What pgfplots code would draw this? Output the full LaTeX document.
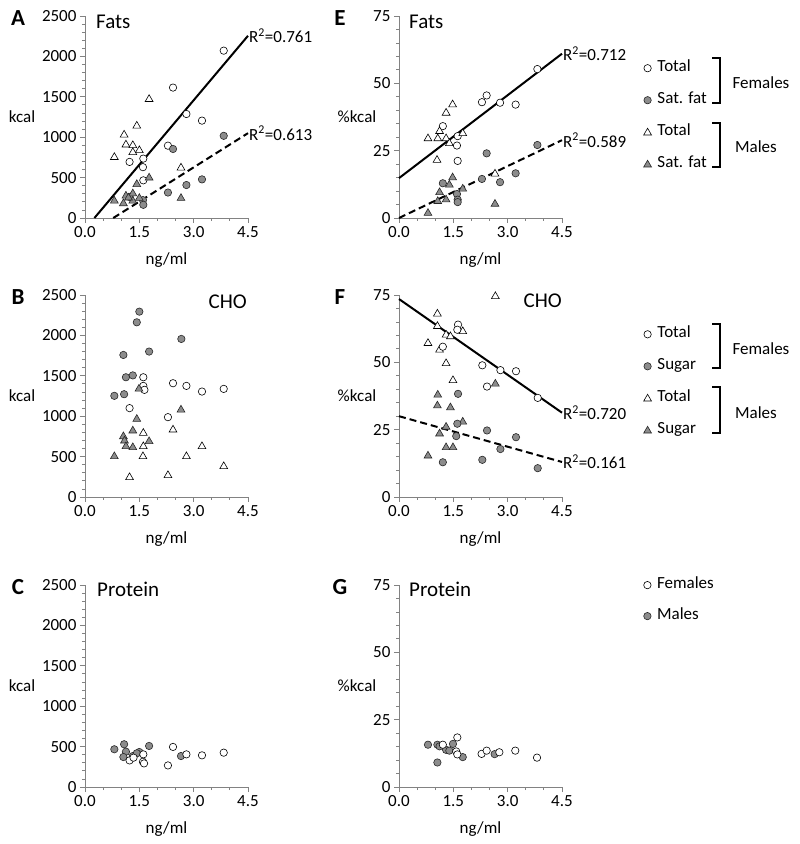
\documentclass[border=0pt]{standalone}
\usepackage{fontspec}
\setmainfont{Carlito}
\usepackage{pgfplots}
\pgfplotsset{compat=1.18}
\definecolor{mgray}{RGB}{140,140,140}
\definecolor{axgray}{RGB}{130,130,130}
\newcommand\tfont{\fontsize{17}{20}\selectfont}
\newcommand\hfont{\fontsize{21}{24}\selectfont}
\newcommand\lfont{\fontsize{23}{26}\selectfont\bfseries}
\pgfplotsset{
 panel/.style={scale only axis, width=163pt, height=202pt, xmin=0, xmax=4.5,
   xtick={0,1.5,3,4.5}, minor x tick num=2,
   axis x line*=bottom, axis y line*=left,
   axis line style={axgray, line width=0.8pt, -},
   tick style={axgray, line width=0.8pt},
   tick align=outside, major tick length=5pt, minor tick length=3pt,
   clip=false, tick label style={font=\tfont},
   /pgf/number format/assume math mode=true,
   x tick label style={/pgf/number format/.cd, fixed, fixed zerofill, precision=1, /tikz/.cd},
   y tick label style={/pgf/number format/.cd, set thousands separator={}, /tikz/.cd},
   every axis x label/.style={at={(axis description cs:0.5,0)}, anchor=center, yshift=-42pt, font=\tfont},
   xlabel={ng/ml},
   legend style={draw=none, fill=none, font=\tfont, row sep=16pt, column sep=6pt, inner sep=0pt,
     nodes={inner sep=0pt, text height=12pt, text depth=4pt}, anchor=north west},
   legend cell align=left},
 kpanel/.style={panel, ymin=0, ymax=2500, ytick={0,500,1000,1500,2000,2500}, minor y tick num=4,
   every axis y label/.style={at={(axis description cs:0,0.5)}, anchor=center, xshift=-63pt, font=\tfont},
   ylabel={kcal}},
 ppanel/.style={panel, ymin=0, ymax=75, ytick={0,25,50,75}, minor y tick num=4,
   every axis y label/.style={at={(axis description cs:0,0.5)}, anchor=center, xshift=-42pt, font=\tfont},
   ylabel={\%kcal}},
 fo/.style={only marks, mark=*, mark size=3.7pt, mark options={fill=white, draw=black, line width=0.6pt},
   legend image code/.code={\draw[##1] plot coordinates {(0pt,-1pt)};}},
 ff/.style={only marks, mark=*, mark size=3.7pt, mark options={fill=mgray, draw=black!85, line width=0.6pt},
   legend image code/.code={\draw[##1] plot coordinates {(0pt,-1pt)};}},
 to/.style={only marks, mark=triangle*, mark size=4.5pt, mark options={fill=white, draw=black, line width=0.6pt},
   legend image code/.code={\draw[##1] plot coordinates {(0pt,-1.5pt)};}},
 tf/.style={only marks, mark=triangle*, mark size=4.5pt, mark options={fill=mgray, draw=black!85, line width=0.6pt},
   legend image code/.code={\draw[##1] plot coordinates {(0pt,-1.5pt)};}},
 regs/.style={black, line width=2pt, no marks, forget plot},
 regd/.style={black, line width=2pt, no marks, dash pattern=on 7pt off 4pt, forget plot},
}
\begin{document}
\begin{tikzpicture}[x=1pt,y=1pt]
\path[use as bounding box] (0,0) rectangle (800,844);

% ---------- A ----------
\begin{axis}[kpanel, at={(85pt,626pt)}, anchor=south west]
\addplot[fo, forget plot] coordinates {(3.83,2071)(2.43,1614)(2.80,1287)(3.23,1205)(2.29,895)(1.23,694)(1.61,735)(1.60,629)(1.61,466)};
\addplot[ff, forget plot] coordinates {(3.83,1017)(2.43,854)(3.23,478)(2.80,408)(2.29,315)(1.60,221)(1.61,163)(1.23,260)};
\addplot[to, forget plot] coordinates {(1.77,1470)(1.43,1140)(1.08,1029)(1.13,907)(1.32,899)(1.32,813)(1.50,837)(0.81,752)(2.65,621)};
\addplot[tf, forget plot] coordinates {(0.81,212)(1.06,180)(1.13,274)(1.32,302)(1.32,212)(1.50,245)(1.43,417)(1.77,498)(2.65,245)(1.20,250)};
\addplot[regs] coordinates {(0.26,0)(4.5,2255)};
\addplot[regd] coordinates {(0.78,0)(4.5,1050)};
\node[anchor=west, font=\tfont, inner sep=1pt] at (axis cs:4.5,2255) {R\textsuperscript{2}=0.761};
\node[anchor=west, font=\tfont, inner sep=1pt] at (axis cs:4.5,1050) {R\textsuperscript{2}=0.613};
\node[anchor=west, font=\hfont, inner sep=0pt, xshift=11pt, yshift=-6pt] at (rel axis cs:0,1) {Fats};
\end{axis}

% ---------- E ----------
\begin{axis}[ppanel, at={(399pt,626pt)}, anchor=south west,
  legend style={at={(axis description cs:1.5,0.787)}}]
\addlegendimage{fo}\addlegendentry{Total}
\addlegendimage{ff}\addlegendentry{Sat. fat}
\addlegendimage{to}\addlegendentry{Total}
\addlegendimage{tf}\addlegendentry{Sat. fat}
\addplot[fo, forget plot] coordinates {(3.82,55.3)(2.42,45.5)(2.29,43.0)(2.79,42.8)(3.22,42.1)(1.21,34.1)(1.62,30.4)(1.60,26.9)(1.62,21.2)};
\addplot[ff, forget plot] coordinates {(3.82,27.1)(2.42,24.0)(3.22,16.6)(2.29,14.5)(2.79,13.3)(1.21,12.9)(1.60,8.9)(1.62,6.8)(1.62,5.9)};
\addplot[to, forget plot] coordinates {(1.48,42.1)(1.30,39.0)(1.12,32.2)(0.80,29.5)(1.07,29.5)(1.30,29.5)(1.39,27.7)(1.76,31.4)(1.05,21.5)(2.65,16.4)};
\addplot[tf, forget plot] coordinates {(1.48,15.0)(1.39,12.3)(1.12,9.5)(1.76,10.8)(1.07,6.2)(1.30,6.8)(0.80,1.8)(2.65,5.2)};
\addplot[regs] coordinates {(0,14.8)(4.5,61.0)};
\addplot[regd] coordinates {(0,0)(4.5,28.9)};
\node[anchor=west, font=\tfont, inner sep=1pt] at (axis cs:4.5,61.0) {R\textsuperscript{2}=0.712};
\node[anchor=west, font=\tfont, inner sep=1pt] at (axis cs:4.5,28.9) {R\textsuperscript{2}=0.589};
\node[anchor=west, font=\hfont, inner sep=0pt, xshift=10pt, yshift=-6pt] at (rel axis cs:0,1) {Fats};
\end{axis}

% ---------- B ----------
\begin{axis}[kpanel, at={(85pt,347pt)}, anchor=south west]
\addplot[ff, forget plot] coordinates {(1.50,2294)(1.43,2162)(2.66,1956)(1.77,1800)(1.06,1758)(1.13,1482)(1.32,1505)(0.81,1252)(1.08,1272)};
\addplot[fo, forget plot] coordinates {(1.61,1482)(1.61,1375)(1.64,1326)(2.43,1408)(2.80,1375)(3.23,1305)(3.83,1338)(1.23,1100)(2.29,988)};
\addplot[tf, forget plot] coordinates {(1.49,1338)(2.65,1079)(1.43,964)(1.32,820)(1.06,749)(1.09,696)(1.13,626)(1.32,614)(1.77,688)(0.81,502)};
\addplot[to, forget plot] coordinates {(1.61,791)(2.43,832)(1.61,626)(3.23,626)(1.60,502)(2.80,502)(3.83,379)(2.29,268)(1.23,243)};
\node[anchor=east, font=\hfont, inner sep=0pt, xshift=-1pt, yshift=-7pt] at (rel axis cs:1,1) {CHO};
\end{axis}

% ---------- F ----------
\begin{axis}[ppanel, at={(399pt,347pt)}, anchor=south west,
  legend style={at={(axis description cs:1.5,0.851)}}]
\addlegendimage{fo}\addlegendentry{Total}
\addlegendimage{ff}\addlegendentry{Sugar}
\addlegendimage{to}\addlegendentry{Total}
\addlegendimage{tf}\addlegendentry{Sugar}
\addplot[to, forget plot] coordinates {(2.66,74.5)(1.06,68.0)(1.06,63.4)(1.30,60.2)(1.42,59.6)(1.76,61.5)(0.80,57.1)(1.12,54.6)(1.30,49.6)(1.49,43.3)};
\addplot[fo, forget plot] coordinates {(1.63,64.0)(1.61,62.1)(1.21,55.8)(2.30,48.9)(2.80,47.1)(3.23,46.7)(2.43,41.0)(3.83,36.8)};
\addplot[tf, forget plot] coordinates {(2.66,42.0)(1.07,37.9)(1.06,33.9)(1.42,33.2)(1.76,27.9)(1.30,26.0)(1.12,23.5)(1.30,18.4)(1.49,18.4)(0.80,15.3)};
\addplot[ff, forget plot] coordinates {(1.63,38.3)(1.61,27.2)(1.58,22.6)(2.43,24.7)(3.23,22.2)(2.80,17.8)(2.30,13.8)(1.21,12.9)(3.83,10.7)};
\addplot[regs] coordinates {(0,73.5)(4.5,31.3)};
\addplot[regd] coordinates {(0,30.0)(4.5,13.0)};
\node[anchor=west, font=\tfont, inner sep=1pt] at (axis cs:4.5,31.3) {R\textsuperscript{2}=0.720};
\node[anchor=west, font=\tfont, inner sep=1pt] at (axis cs:4.5,13.0) {R\textsuperscript{2}=0.161};
\node[anchor=east, font=\hfont, inner sep=0pt, xshift=0pt, yshift=-6pt] at (rel axis cs:1,1) {CHO};
\end{axis}

% ---------- C ----------
\begin{axis}[kpanel, at={(85pt,57pt)}, anchor=south west]
\addplot[ff, forget plot] coordinates {(0.81,467)(1.08,529)(1.13,437)(1.06,371)(1.32,383)(1.50,433)(1.43,417)(1.77,508)(2.65,383)};
\addplot[fo, forget plot] coordinates {(1.23,329)(1.61,404)(1.60,312)(1.63,292)(2.43,496)(2.80,404)(3.23,392)(3.83,425)(2.29,267)(1.34,363)};
\node[anchor=west, font=\hfont, inner sep=0pt, xshift=12pt, yshift=-4pt] at (rel axis cs:0,1) {Protein};
\end{axis}

% ---------- G ----------
\begin{axis}[ppanel, at={(399pt,57pt)}, anchor=south west,
  legend style={at={(axis description cs:1.5,1.045)}, row sep=15pt}]
\addlegendimage{fo}\addlegendentry{Females}
\addlegendimage{ff}\addlegendentry{Males}
\addplot[ff, forget plot] coordinates {(0.80,15.7)(1.06,15.7)(1.49,16.0)(1.30,13.8)(1.39,13.5)(1.12,15.1)(1.76,11.1)(1.06,9.1)(2.64,12.2)};
\addplot[fo, forget plot] coordinates {(1.61,18.4)(1.21,15.7)(1.58,13.2)(1.61,12.1)(2.28,12.3)(2.42,13.5)(2.77,12.9)(3.21,13.5)(3.81,10.9)};
\node[anchor=west, font=\hfont, inner sep=0pt, xshift=10pt, yshift=-4pt] at (rel axis cs:0,1) {Protein};
\end{axis}

% ---------- brackets and group labels ----------
\draw[line width=1.8pt] (712,786) -- (720,786) -- (720,741) -- (712,741);
\draw[line width=1.8pt] (712,721) -- (720,721) -- (720,677) -- (712,677);
\node[font=\tfont] at (761,761) {Females};
\node[font=\tfont] at (756,697) {Males};
\draw[line width=1.8pt] (712,520) -- (720,520) -- (720,476) -- (712,476);
\draw[line width=1.8pt] (712,457) -- (720,457) -- (720,411) -- (712,411);
\node[font=\tfont] at (761,495) {Females};
\node[font=\tfont] at (756,431) {Males};

% ---------- panel letters ----------
\node[font=\lfont] at (18,826) {A};
\node[font=\lfont] at (18,547) {B};
\node[font=\lfont] at (18,257) {C};
\node[font=\lfont] at (340,826) {E};
\node[font=\lfont] at (340,547) {F};
\node[font=\lfont] at (340,257) {G};
\end{tikzpicture}
\end{document}
